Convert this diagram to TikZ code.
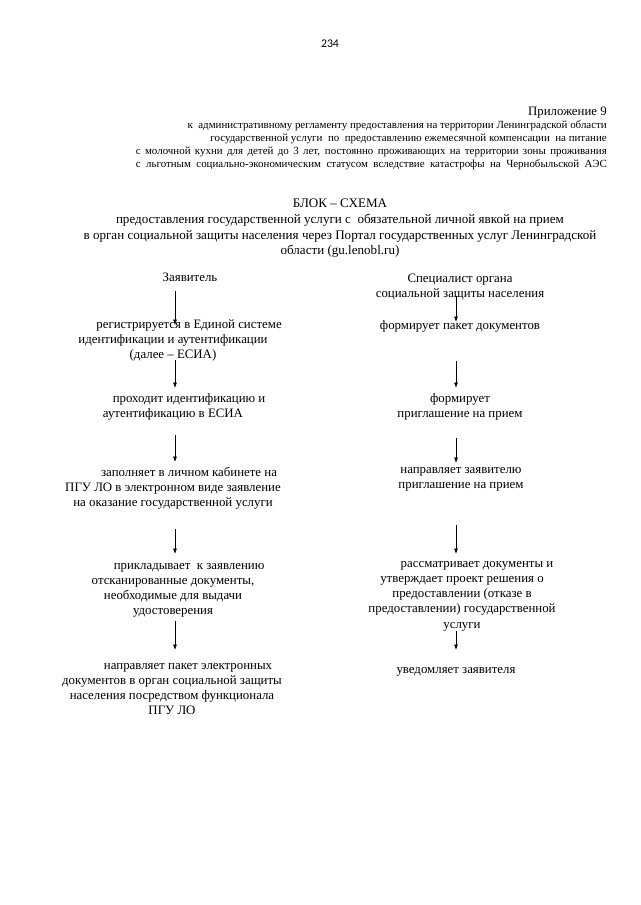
\documentclass[tikz,border=0pt]{standalone}
\usepackage{fontspec}
\setmainfont{Liberation Serif}
\newfontfamily\pagenofont{Carlito}
\usetikzlibrary{arrows.meta,calc}

\begin{document}
\begin{tikzpicture}[x=0.0328125cm,y=-0.0328125cm,
  txt/.style={align=center,inner sep=0pt,anchor=north,font=\fontsize{12}{14.2}\selectfont,execute at begin node=\strut,execute at end node=\strut},
  arr/.style={-{Latex[length=5pt,width=3.6pt]},line width=0.6pt}]
\useasboundingbox[fill=white] (0,0) rectangle (640,905);

% page head
\node[font=\pagenofont\fontsize{11}{13}\selectfont,anchor=base] (pageno) at (330,48) {234};
\node[font=\fontsize{12}{14}\selectfont,anchor=base east,inner sep=0pt] (pril) at (607,116) {Приложение 9};
\node[font=\fontsize{10.2}{12.2}\selectfont,align=right,anchor=north east,inner sep=0pt,execute at begin node=\strut] (hdr) at (607,120)
  {к~ административному регламенту предоставления на территории Ленинградской области\\
   государственной услуги~ по~ предоставлению ежемесячной компенсации~ на питание\\
   \makebox[15.45cm][s]{с молочной кухни для детей до 3 лет, постоянно проживающих на территории зоны проживания}\\
   \makebox[15.45cm][s]{с льготным социально-экономическим статусом вследствие катастрофы на Чернобыльской АЭС}};

% title
\node[txt,font=\fontsize{12.2}{14.6}\selectfont] (title) at (340,199)
  {БЛОК – СХЕМА\\
   предоставления государственной услуги с~ обязательной личной явкой на прием\\
   в орган социальной защиты населения через Портал государственных услуг Ленинградской\\
   области (gu.lenobl.ru)};

% columns
\node[txt] (zayav) at (190,271) {Заявитель};
\node[txt] (spec) at (460,274) {Специалист органа\\социальной защиты населения};

% applicant
\node[txt] (a1) at (173,319) {\hspace*{30pt}регистрируется в Единой системе\\идентификации и аутентификации\\(далее – ЕСИА)};
\node[txt] (a2) at (173,393) {\hspace*{30pt}проходит идентификацию и\\аутентификацию в ЕСИА};
\node[txt] (a3) at (173,467) {\hspace*{30pt}заполняет в личном кабинете на\\ПГУ ЛО в электронном виде заявление\\на оказание государственной услуги};
\node[txt] (a4) at (173,563) {\hspace*{30pt}прикладывает~ к заявлению\\отсканированные документы,\\необходимые для выдачи\\удостоверения};
\node[txt] (a5) at (172,663) {\hspace*{30pt}направляет пакет электронных\\документов в орган социальной защиты\\населения посредством функционала\\ПГУ ЛО};

% specialist
\node[txt] (b1) at (460,319) {формирует пакет документов};
\node[txt] (b2) at (460,393) {формирует\\приглашение на прием};
\node[txt] (b3) at (461,467) {направляет заявителю\\приглашение на прием};
\node[txt] (b4) at (462,561) {\hspace*{28pt}рассматривает документы и\\утверждает проект решения о\\предоставлении (отказе в\\предоставлении) государственной\\услуги};
\node[txt] (b5) at (456,663) {уведомляет заявителя};

\coordinate (lx) at (175,0);
\coordinate (rx) at (456,0);

\draw[arr] ($(zayav.south -| lx)+(0,4)$) -- ($(a1.north -| lx)+(0,6)$);
\draw[arr] ($(a1.south -| lx)+(0,-3)$) -- ($(a2.north -| lx)+(0,-5)$);
\draw[arr] ($(a2.south -| lx)+(0,13)$) -- ($(a3.north -| lx)+(0,-5)$);
\draw[arr] ($(a3.south -| lx)+(0,17)$) -- ($(a4.north -| lx)+(0,-9)$);
\draw[arr] ($(a4.south -| lx)+(0,1)$) -- ($(a5.north -| lx)+(0,-13)$);

\draw[arr] ($(spec.south -| rx)+(0,-7)$) -- ($(b1.north -| rx)+(0,3)$);
\draw[arr] ($(b1.south -| rx)+(0,26)$) -- ($(b2.north -| rx)+(0,-5)$);
\draw[arr] ($(b2.south -| rx)+(0,16)$) -- ($(b3.north -| rx)+(0,-4)$);
\draw[arr] ($(b3.south -| rx)+(0,32)$) -- ($(b4.north -| rx)+(0,-7)$);
\draw[arr] ($(b4.south -| rx)+(0,-2)$) -- ($(b5.north -| rx)+(0,-13)$);
\end{tikzpicture}
\end{document}
